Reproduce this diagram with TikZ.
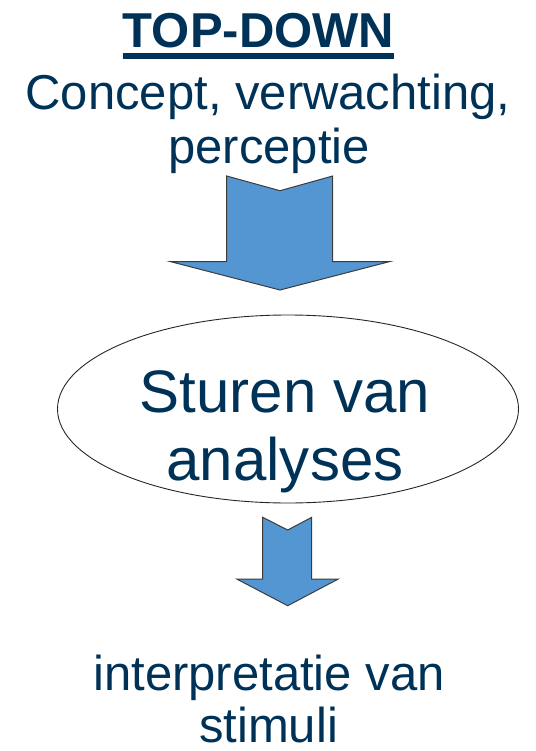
\documentclass[tikz,border=0pt]{standalone}
\usepackage{fontspec}
\setmainfont{Liberation Sans}
\usetikzlibrary{shapes.geometric}
\definecolor{ink}{RGB}{0,50,88}
\definecolor{arrowfill}{RGB}{83,150,210}
\definecolor{arrowline}{RGB}{60,60,60}
\begin{document}
\begin{tikzpicture}[x=1pt,y=-1pt,
  txt/.style={text=ink, font=\fontsize{49}{55}\selectfont, inner sep=0pt, anchor=base},
  bigtxt/.style={txt, font=\fontsize{60}{68}\selectfont},
  blockarrow/.style={fill=arrowfill, draw=arrowline, line width=1pt, line join=miter},
  oval/.style={ellipse, draw=black!85, line width=0.9pt, inner sep=0pt,
    minimum width=461pt, minimum height=188pt}]
\useasboundingbox (0,0) rectangle (535,751);

% heading
\node[txt, font=\fontsize{49}{55}\selectfont\bfseries] (title) at (258.5,48) {TOP-DOWN};
\fill[ink] ([yshift=-5pt]title.base west) rectangle ([yshift=-10.6pt]title.base east);
\node[txt] (concept) at (268,110) {Concept, verwachting,};
\node[txt] (perceptie) at (269,164) {perceptie};

% large downward block arrow
\draw[blockarrow] (226.7,176) -- (280,190.7) -- (332.7,176) -- (332.7,261.5)
  -- (390,261.5) -- (280,290) -- (170,261.5) -- (226.7,261.5) -- cycle;

% steering oval
\node[oval] (steer) at (288,409) {};
\node[bigtxt] (sturen) at (285,412) {Sturen van};
\node[bigtxt] (analyses) at (285,480) {analyses};

% small downward block arrow
\draw[blockarrow] (262.7,517.3) -- (287.7,530) -- (311.7,517.3) -- (311.7,579)
  -- (338.3,579) -- (287.7,605.7) -- (236.7,579) -- (262.7,579) -- cycle;

% result
\node[txt] (interp) at (269,690) {interpretatie van};
\node[txt] (stimuli) at (268.5,742) {stimuli};
\end{tikzpicture}
\end{document}
